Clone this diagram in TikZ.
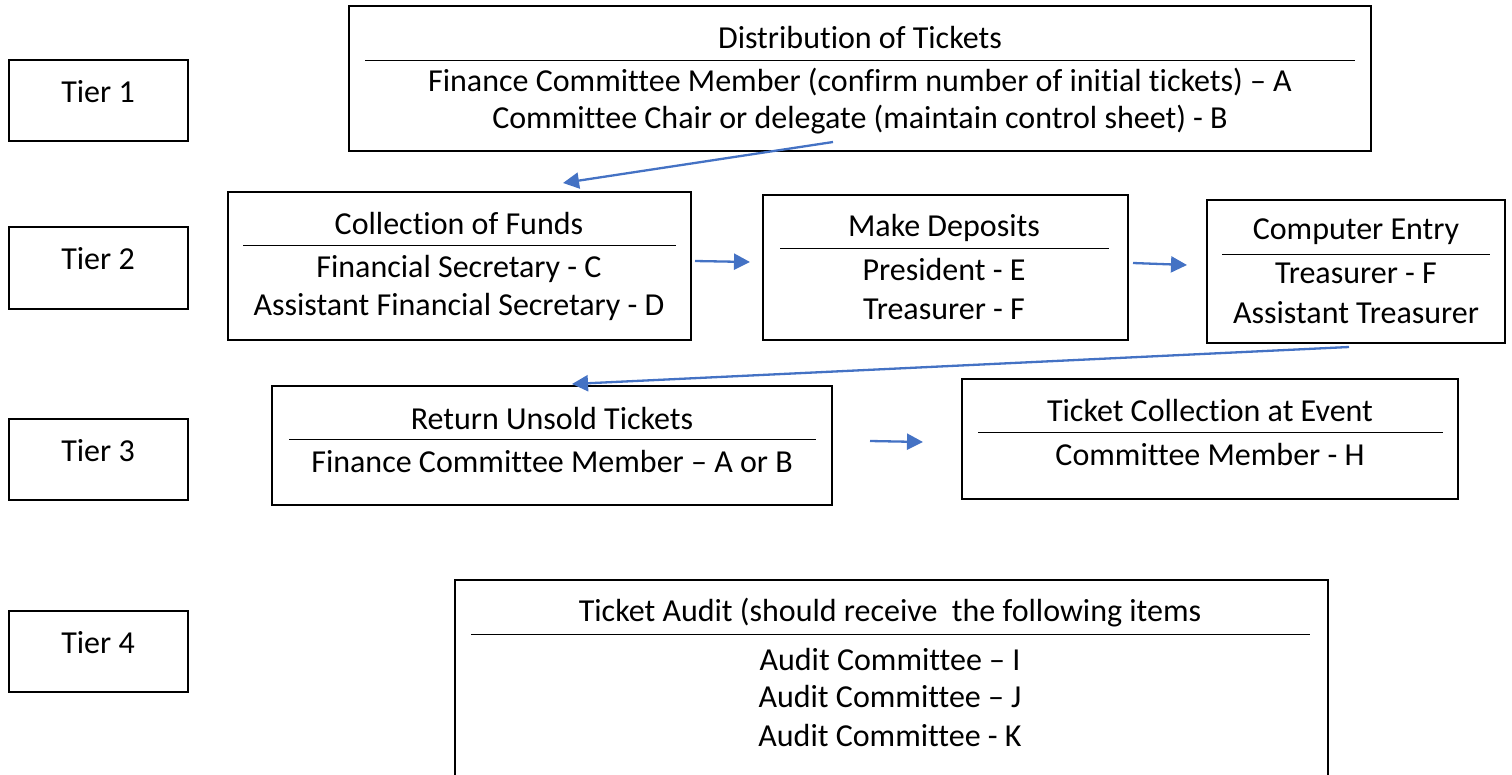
\documentclass[tikz,border=0pt]{standalone}
\usepackage{fontspec}
\setmainfont{Carlito}[Ligatures=NoCommon]
\usetikzlibrary{arrows.meta}
\definecolor{arrowblue}{HTML}{4472C4}
\begin{document}
\begin{tikzpicture}[x=1pt,y=-1pt,
  box/.style={draw=black,line width=2pt,fill=none},
  txt/.style={inner sep=0pt,font=\fontsize{32}{36}\selectfont},
  rule/.style={draw=black,line width=1pt},
  flow/.style={draw=arrowblue,line width=2.3pt,-{Triangle[width=16pt,length=16pt]}}]
\path[use as bounding box] (0,0) rectangle (1512,774);
\clip (0,0) rectangle (1512,774);
% tier boxes
\draw[box] (9,60) rectangle (188,141);
\node[txt] (t1) at (98,92) {Tier 1};
\draw[box] (9,227) rectangle (188,309);
\node[txt] (t2) at (98,259) {Tier 2};
\draw[box] (9,419) rectangle (188,500);
\node[txt] (t3) at (98,451) {Tier 3};
\draw[box] (9,611) rectangle (188,692);
\node[txt] (t4) at (98,643) {Tier 4};
% Distribution
\draw[box] (349,6) rectangle (1371,151);
\node[txt] (dist) at (860,38) {Distribution of Tickets};
\draw[rule] (365,60) -- (1355,60);
\node[txt] (dista) at (860,82) {Finance Committee Member (confirm number of initial tickets) – A};
\node[txt] (distb) at (860,120) {Committee Chair or delegate (maintain control sheet) - B};
% Collection
\draw[box] (228,192) rectangle (691,340);
\node[txt] (coll) at (459,224) {Collection of Funds};
\draw[rule] (243,245) -- (676,245);
\node[txt] (collc) at (459,269) {Financial Secretary - C};
\node[txt] (colld) at (459,307) {Assistant Financial Secretary - D};
% Deposits
\draw[box] (763,195) rectangle (1128,340);
\node[txt] (dep) at (944,228) {Make Deposits};
\draw[rule] (780,248) -- (1109,248);
\node[txt] (depe) at (944,270) {President - E};
\node[txt] (depf) at (944,309) {Treasurer - F};
% Computer
\draw[box] (1207,200) rectangle (1505,343);
\node[txt] (comp) at (1356,232) {Computer Entry};
\draw[rule] (1222,254) -- (1490,254);
\node[txt] (compf) at (1356,273) {Treasurer - F};
\node[txt] (compa) at (1356,313) {Assistant Treasurer};
% Return
\draw[box] (272,386) rectangle (832,505);
\node[txt] (ret) at (552,418) {Return Unsold Tickets};
\draw[rule] (289,439) -- (816,439);
\node[txt] (reta) at (552,461) {Finance Committee Member – A or B};
% Ticket collection
\draw[box] (962,379) rectangle (1458,499);
\node[txt] (tce) at (1210,410) {Ticket Collection at Event};
\draw[rule] (978,432) -- (1443,432);
\node[txt] (tceh) at (1210,454) {Committee Member - H};
% Audit
\draw[box] (455,580) rectangle (1328,800);
\node[txt] (aud) at (890,613) {Ticket Audit (should receive\ \ the following items};
\draw[rule] (471,634) -- (1310,634);
\node[txt] (audi) at (890,659) {Audit Committee – I};
\node[txt] (audj) at (890,696) {Audit Committee – J};
\node[txt] (audk) at (890,735) {Audit Committee - K};
% arrows
\coordinate (a1s) at (833,142);
\coordinate (a1e) at (563,183);
\coordinate (a2s) at (695,261);
\coordinate (a2e) at (750,262);
\coordinate (a3s) at (1133,263);
\coordinate (a3e) at (1187,265);
\coordinate (a4s) at (1349,347);
\coordinate (a4e) at (572,384);
\coordinate (a5s) at (870,441);
\coordinate (a5e) at (923,442);
\draw[flow] (a1s) -- (a1e);
\draw[flow] (a2s) -- (a2e);
\draw[flow] (a3s) -- (a3e);
\draw[flow] (a4s) -- (a4e);
\draw[flow] (a5s) -- (a5e);
\end{tikzpicture}
\end{document}
